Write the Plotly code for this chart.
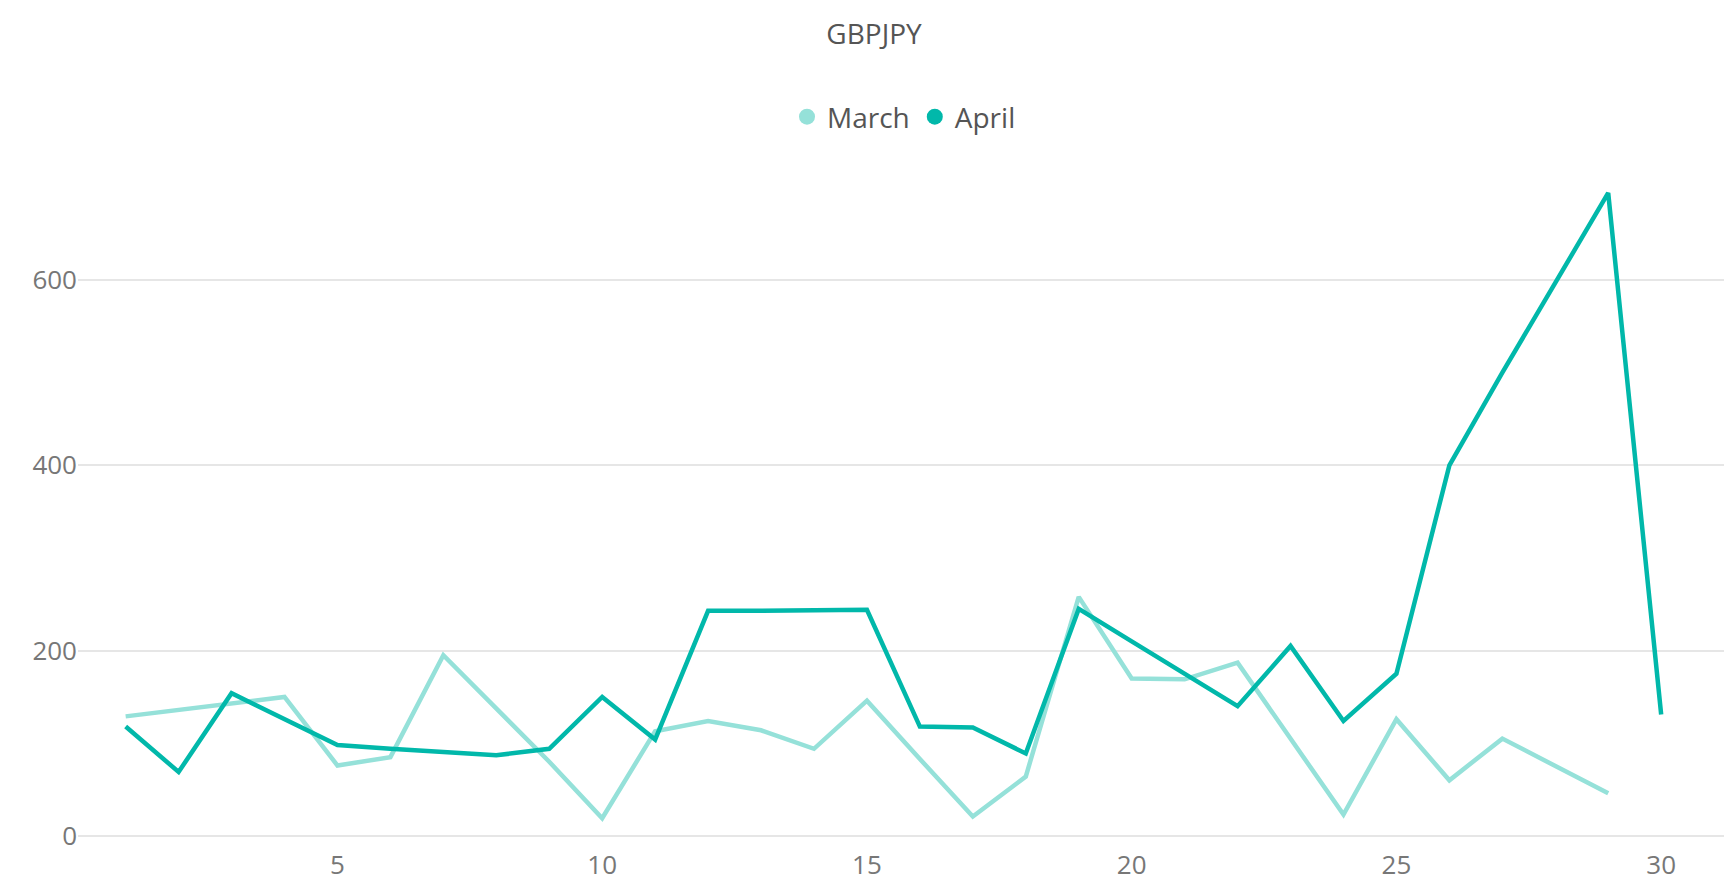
import plotly.graph_objects as go

days = list(range(1, 31))
march = [129, 136, 143, 150, 76, 85, 195, 137, 80, 19, 113, 124, 114, 94, 146,
         83, 21, 64, 258, 170, 169, 187, 105, 23, 126, 60, 105, 76, 46]
april = [118, 69, 154, 126, 98, 94, 90, 87, 94, 150, 104, 243, 243, 243, 244,
         118, 117, 89, 245, 210, 175, 140, 205, 124, 175, 400, 500, 598, 694, 131]

colors = {"March": "#95E1D9", "April": "#01B8AA"}

fig = go.Figure()
fig.add_trace(go.Scatter(x=days[:len(march)], y=march, name="March", mode="lines",
                         line=dict(color=colors["March"], width=4.5), showlegend=False))
fig.add_trace(go.Scatter(x=days, y=april, name="April", mode="lines",
                         line=dict(color=colors["April"], width=4.5), showlegend=False))
# legend entries with round markers
for name in ["March", "April"]:
    fig.add_trace(go.Scatter(x=[None], y=[None], name=name, mode="markers",
                             marker=dict(color=colors[name], size=26, symbol="circle")))

fig.update_layout(
    width=1732, height=887,
    paper_bgcolor="white", plot_bgcolor="white",
    font=dict(family="Open Sans", color="#666666", size=26),
    title=dict(text="GBPJPY", x=0.5, y=0.97, yanchor="middle", xanchor="center",
               font=dict(size=28, color="#555555")),
    legend=dict(orientation="h", x=0.5, xanchor="center", y=1.055, yanchor="middle",
                font=dict(size=28, color="#555555"), itemwidth=30, tracegroupgap=0),
    margin=dict(l=70, r=10, t=147, b=48),
)
fig.update_xaxes(range=[0.1, 31.3], tickvals=[5, 10, 15, 20, 25, 30], showgrid=False,
                 zeroline=False, ticks="", tickfont=dict(size=26, color="#777777"))
fig.update_yaxes(range=[-12, 735], tickvals=[0, 200, 400, 600], showgrid=True,
                 gridcolor="#E6E6E6", gridwidth=2, zeroline=False,
                 tickfont=dict(size=26, color="#777777"), ticksuffix="  ")
fig.write_html("out.html")
